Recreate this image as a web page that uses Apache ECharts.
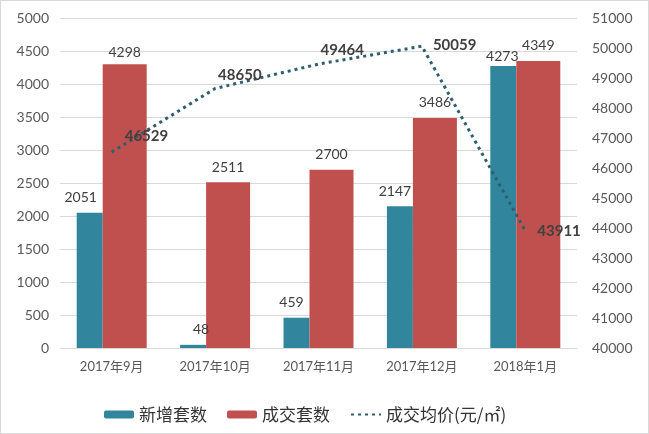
<!DOCTYPE html>
<html>
<head>
<meta charset="utf-8">
<script src="https://cdn.jsdelivr.net/npm/echarts@6/dist/echarts.min.js"></script>
<style>
html,body{margin:0;padding:0;background:#fff;}
#c{width:647px;height:432px;border:1px solid #d9d9d9;}
</style>
</head>
<body>
<div id="c"></div>
<script>
var categories = ['2017年9月','2017年10月','2017年11月','2017年12月','2018年1月'];
var newUnits = [2051, 48, 459, 2147, 4273];
var soldUnits = [4298, 2511, 2700, 3486, 4349];
var avgPrice = [46529, 48650, 49464, 50059, 43911];
var seriesNames = ['新增套数','成交套数','成交均价(元/㎡)'];

// label layout tweaks (pixel offsets)
var newLabelOffsets = [[-9,0],[8,0],[-5,0],[-5,0],[-1,6]];
var soldLabelOffsets = [[0,3],[0,0],[0,0],[0,0],[0,0]];
var priceLabelOffsets = [[8,-16],[-2,-13],[-3,-14],[6,-1],[7,0]];

var fontMain = 'Lato, "Noto Sans CJK SC", sans-serif';
var chart = echarts.init(document.getElementById('c'));
chart.setOption({
  animation: false,
  textStyle: {fontFamily: fontMain},
  grid: {left: 59, right: 71, top: 17, bottom: 85, containLabel: false},
  legend: {
    left: 98, top: 400,
    itemWidth: 30, itemHeight: 8, itemGap: 20,
    textStyle: {fontSize: 17, color: '#333', fontFamily: '"Noto Sans CJK SC", sans-serif'},
    data: [seriesNames[0], seriesNames[1], {name: seriesNames[2], itemStyle: {opacity: 0}}]
  },
  xAxis: {
    type: 'category', data: categories,
    axisLine: {lineStyle: {color: '#d9d9d9'}},
    axisTick: {show: false},
    axisLabel: {color: '#595959', fontSize: 13, margin: 12, fontFamily: fontMain}
  },
  yAxis: [{
    type: 'value', min: 0, max: 5000, interval: 500,
    axisLine: {show: false}, axisTick: {show: false},
    splitLine: {lineStyle: {color: '#d9d9d9'}},
    axisLabel: {color: '#595959', fontSize: 14, margin: 11, formatter: function(v){return String(v);}}
  }, {
    type: 'value', min: 40000, max: 51000, interval: 1000,
    axisLine: {show: false}, axisTick: {show: false},
    splitLine: {show: false},
    axisLabel: {color: '#595959', fontSize: 14, margin: 15, formatter: function(v){return String(v);}}
  }],
  series: [{
    name: seriesNames[0], type: 'bar', barWidth: 26, barGap: '0%',
    itemStyle: {color: '#31859c'},
    data: newUnits.map(function(v,i){return {value: v, label: {offset: newLabelOffsets[i]}};}),
    label: {show: true, position: 'top', distance: 8, fontSize: 14, color: '#404040'}
  }, {
    name: seriesNames[1], type: 'bar', barWidth: 44,
    itemStyle: {color: '#c0504d'},
    data: soldUnits.map(function(v,i){return {value: v, label: {offset: soldLabelOffsets[i]}};}),
    label: {show: true, position: 'top', distance: 8, fontSize: 14, color: '#404040'}
  }, {
    name: seriesNames[2], type: 'line', yAxisIndex: 1,
    symbol: 'circle', symbolSize: 0, showSymbol: true,
    lineStyle: {color: '#2e5f6e', width: 3, type: [3, 4]},
    itemStyle: {color: '#2e5f6e'},
    data: avgPrice.map(function(v,i){return {value: v, label: {offset: priceLabelOffsets[i]}};}),
    label: {show: true, position: 'right', distance: 5, fontSize: 15, fontWeight: 'bold', color: '#404040'},
    z: 5
  }]
});
</script>
</body>
</html>
